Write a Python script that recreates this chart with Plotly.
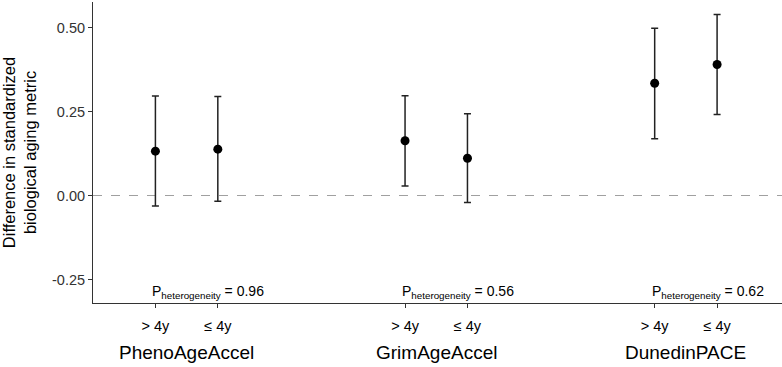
import plotly.graph_objects as go

metrics = ["PhenoAgeAccel", "GrimAgeAccel", "DunedinPACE"]
subgroups = ["> 4y", "≤ 4y"]
positions = [1, 2, 5, 6, 9, 10]
tick_labels = ["> 4y", "≤ 4y", "> 4y", "≤ 4y", "> 4y", "≤ 4y"]
estimates = [0.132, 0.138, 0.163, 0.111, 0.334, 0.390]
lower_ci = [-0.031, -0.017, 0.028, -0.021, 0.169, 0.241]
upper_ci = [0.296, 0.295, 0.297, 0.243, 0.498, 0.539]
p_het = ["0.96", "0.56", "0.62"]
y_ticks = [-0.25, 0.0, 0.25, 0.50]
y_tick_text = ["-0.25", "0.00", "0.25", "0.50"]

FONT = "Liberation Sans, Arial, sans-serif"

fig = go.Figure()
fig.add_trace(go.Scatter(
    x=positions, y=estimates, mode="markers",
    marker=dict(color="black", size=9),
    error_y=dict(type="data", symmetric=False,
                 array=[u - e for u, e in zip(upper_ci, estimates)],
                 arrayminus=[e - l for e, l in zip(estimates, lower_ci)],
                 color="#222222", thickness=1.5, width=3.5),
    showlegend=False, hoverinfo="skip"))

fig.add_shape(type="line", xref="paper", x0=0, x1=1, yref="y", y0=0, y1=0,
              line=dict(color="#a0a0a0", width=1.2, dash="dash"), layer="below")

for i, m in enumerate(metrics):
    first = positions[2 * i]
    center = (positions[2 * i] + positions[2 * i + 1]) / 2
    fig.add_annotation(x=center, xref="x", y=0, yref="paper", text=m,
                       showarrow=False, yanchor="middle", yshift=-49,
                       font=dict(family=FONT, size=19, color="black"))
    fig.add_annotation(x=first - 0.08, xref="x", y=0, yref="paper",
                       text=f"P<sub>heterogeneity</sub> = {p_het[i]}",
                       showarrow=False, xanchor="left", yanchor="bottom", yshift=0,
                       font=dict(family=FONT, size=14, color="black"))

fig.update_layout(
    width=782, height=367,
    margin=dict(l=93, r=0, t=2, b=64),
    paper_bgcolor="white", plot_bgcolor="white",
    font=dict(family=FONT),
    xaxis=dict(range=[0, 11.04], tickvals=positions, ticktext=tick_labels,
               automargin=False,
               showgrid=False, zeroline=False, showline=True, linecolor="#333333",
               linewidth=1, ticks="outside", ticklen=4, tickcolor="#333333",
               tickfont=dict(family=FONT, size=14.5, color="black"),
               ticklabelstandoff=6),
    yaxis=dict(range=[-0.32, 0.576], tickvals=y_ticks, ticktext=y_tick_text,
               automargin=False,
               showgrid=False, zeroline=False, showline=True, linecolor="#333333",
               linewidth=1, ticks="outside", ticklen=4, tickcolor="#333333",
               tickfont=dict(family=FONT, size=14.5, color="#333333"),
               title=dict(text="Difference in standardized<br>biological aging metric",
                          font=dict(family=FONT, size=16.5, color="black"), standoff=14)),
)

fig.write_html("out.html", config={"displayModeBar": False},
               post_script="document.body.style.margin='0';document.body.style.overflow='hidden';")
